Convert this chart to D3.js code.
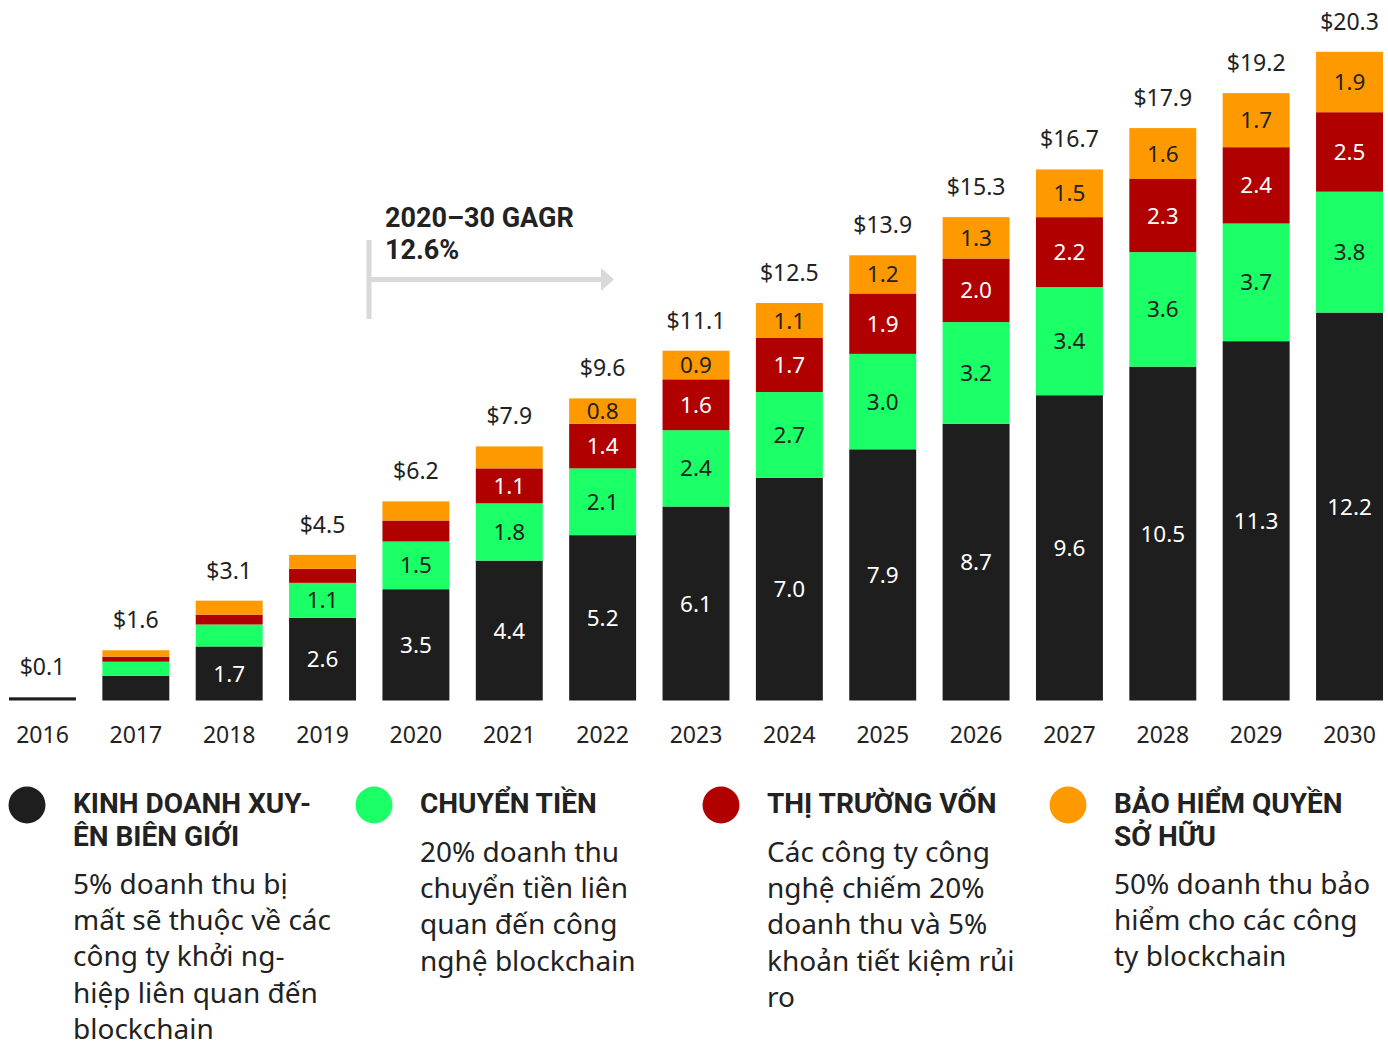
<!DOCTYPE html>
<html>
<head>
<meta charset="utf-8">
<script src="https://cdn.jsdelivr.net/npm/d3@7"></script>
<style>
  html, body { margin: 0; padding: 0; background: #fff; }
  svg { display: block; font-family: "Noto Sans", "Open Sans", sans-serif; }
</style>
</head>
<body>
<svg id="chart" width="1388" height="1048"></svg>
<script>
// ---- Data ----
const years = ["2016","2017","2018","2019","2020","2021","2022","2023","2024","2025","2026","2027","2028","2029","2030"];
const crossBorder = [0.1, 0.78, 1.7, 2.6, 3.5, 4.4, 5.2, 6.1, 7.0, 7.9, 8.7, 9.6, 10.5, 11.3, 12.2];
const remittance  = [0, 0.44, 0.69, 1.1, 1.5, 1.8, 2.1, 2.4, 2.7, 3.0, 3.2, 3.4, 3.6, 3.7, 3.8];
const capitalMkt  = [0, 0.16, 0.31, 0.44, 0.66, 1.1, 1.4, 1.6, 1.7, 1.9, 2.0, 2.2, 2.3, 2.4, 2.5];
const insurance   = [0, 0.2, 0.44, 0.44, 0.6, 0.69, 0.8, 0.9, 1.1, 1.2, 1.3, 1.5, 1.6, 1.7, 1.9];
const totals      = [0.1, 1.6, 3.1, 4.5, 6.2, 7.9, 9.6, 11.1, 12.5, 13.9, 15.3, 16.7, 17.9, 19.2, 20.3];

const seriesKeys = ["crossBorder", "remittance", "capitalMkt", "insurance"];
const seriesColors = ["#1e1e1e", "#1bff67", "#b00000", "#ff9900"];
const labelColors = ["#ffffff", "#222222", "#ffffff", "#222222"];

const legendTitles = [
  ["KINH DOANH XUY-", "ÊN BIÊN GIỚI"],
  ["CHUYỂN TIỀN"],
  ["THỊ TRƯỜNG VỐN"],
  ["BẢO HIỂM QUYỀN", "SỞ HỮU"]
];
const legendDescs = [
  ["5% doanh thu bị", "mất sẽ thuộc về các", "công ty khởi ng-", "hiệp liên quan đến", "blockchain"],
  ["20% doanh thu", "chuyển tiền liên", "quan đến công", "nghệ blockchain"],
  ["Các công ty công", "nghệ chiếm 20%", "doanh thu và 5%", "khoản tiết kiệm rủi", "ro"],
  ["50% doanh thu bảo", "hiểm cho các công", "ty blockchain"]
];
const annotationLines = ["2020–30 GAGR", "12.6%"];

// ---- Build table ----
const table = years.map((yr, i) => ({
  year: yr,
  crossBorder: crossBorder[i],
  remittance: remittance[i],
  capitalMkt: capitalMkt[i],
  insurance: insurance[i],
  total: totals[i]
}));

const svg = d3.select("#chart");
const textColor = "#222222";
const boldFont = "Roboto, 'Noto Sans', sans-serif";

const x = d3.scaleBand().domain(years).range([9, 1383]).paddingInner(0.283).paddingOuter(0);
const y = d3.scaleLinear().domain([0, 22]).range([700.5, 0.9]);

const stack = d3.stack().keys(seriesKeys);
const stacked = stack(table);

const layers = svg.append("g").selectAll("g")
  .data(stacked).join("g")
  .attr("fill", (d, i) => seriesColors[i]);

layers.selectAll("rect")
  .data(d => d.map(p => ({p, key: d.key})))
  .join("rect")
  .attr("x", d => x(d.p.data.year))
  .attr("width", x.bandwidth())
  .attr("y", d => y(d.p[1]))
  .attr("height", d => Math.max(0, y(d.p[0]) - y(d.p[1])));

// segment labels
stacked.forEach((layer, li) => {
  svg.append("g").selectAll("text")
    .data(layer.filter(p => (p[1] - p[0]) >= 0.8))
    .join("text")
    .attr("x", p => x(p.data.year) + x.bandwidth() / 2)
    .attr("y", p => (y(p[0]) + y(p[1])) / 2)
    .attr("dy", "0.36em")
    .attr("text-anchor", "middle")
    .attr("font-size", 22.5)
    .attr("fill", labelColors[li])
    .text(p => d3.format(".1f")(p[1] - p[0]));
});

// totals
const topOf = d => d3.sum(seriesKeys, k => d[k]);
svg.append("g").selectAll("text")
  .data(table).join("text")
  .attr("x", d => x(d.year) + x.bandwidth() / 2)
  .attr("y", d => y(topOf(d)) - 22)
  .attr("text-anchor", "middle")
  .attr("font-size", 23)
  .attr("fill", textColor)
  .text(d => "$" + d3.format(".1f")(d.total));

// x axis labels
const xAxis = d3.axisBottom(x).tickSize(0).tickPadding(0);
const gx = svg.append("g").attr("transform", "translate(0,727)").call(xAxis);
gx.select(".domain").remove();
gx.selectAll("text")
  .attr("font-size", 23)
  .attr("font-family", "Noto Sans, sans-serif")
  .attr("fill", textColor)
  .attr("dy", "0.71em");

// helper: multi-line text as one <text> with tspans
function multiline(g, lines, x0, y0, lh, size, weight, family) {
  const t = g.append("text")
    .attr("x", x0).attr("y", y0)
    .attr("font-size", size)
    .attr("font-weight", weight)
    .attr("fill", textColor);
  if (family) t.attr("font-family", family);
  t.selectAll("tspan").data(lines).join("tspan")
    .attr("x", x0)
    .attr("dy", (d, i) => i === 0 ? 0 : lh)
    .text(d => d);
  return t;
}

// annotation
const ann = svg.append("g");
ann.append("line").attr("x1", 369).attr("x2", 369).attr("y1", 240).attr("y2", 319)
  .attr("stroke", "#d9d9d9").attr("stroke-width", 5);
ann.append("line").attr("x1", 369).attr("x2", 602).attr("y1", 279.5).attr("y2", 279.5)
  .attr("stroke", "#d9d9d9").attr("stroke-width", 5);
ann.append("path").attr("d", "M601,268 L614,279.5 L601,291 Z").attr("fill", "#d9d9d9");
multiline(ann, annotationLines, 385, 227, 32, 27, 700, boldFont);

// legend
const legendX = [27, 374, 721, 1068];
const leg = svg.append("g");
legendTitles.forEach((titleLines, i) => {
  const g = leg.append("g");
  g.append("circle").attr("cx", legendX[i]).attr("cy", 805).attr("r", 18.5).attr("fill", seriesColors[i]);
  multiline(g, titleLines, legendX[i] + 46, 813, 33, 28, 700, boldFont);
  const descStart = 813 + (titleLines.length - 1) * 32 + 49;
  multiline(g, legendDescs[i], legendX[i] + 46, descStart, 36.2, 28, 400);
});
</script>
</body>
</html>
